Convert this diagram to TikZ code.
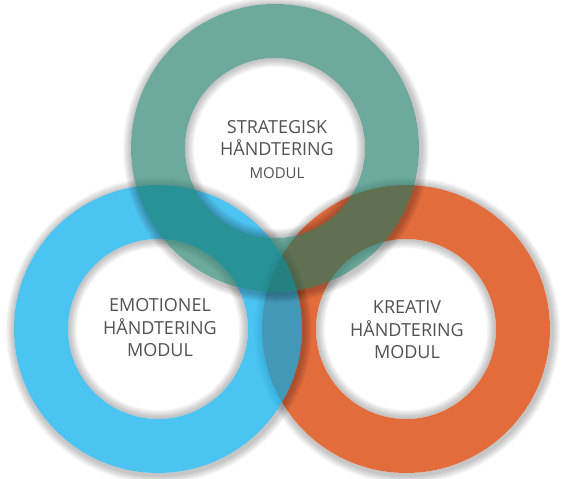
\documentclass[tikz,border=0pt]{standalone}
\usepackage{fontspec}
\setmainfont{Open Sans}
\usetikzlibrary{calc}

\definecolor{tealc}{RGB}{20,116,96}
\definecolor{bluec}{RGB}{0,171,236}
\definecolor{orangec}{RGB}{227,108,61}
\definecolor{textc}{RGB}{82,82,82}

\tikzset{
  modtext/.style={align=center, text=textc, font=\fontsize{18}{22.5}\selectfont, inner sep=0pt},
  ringshadow/.style={black, opacity=0.03, even odd rule},
}

\begin{document}
\begin{tikzpicture}[x=1pt,y=-1pt]
  \useasboundingbox (0,0) rectangle (565,479);

  % ring centres
  \coordinate (kre) at (406,329);
  \coordinate (emo) at (158,329);
  \coordinate (str) at (275,148);

  % rings with soft shadows, orange at the bottom, teal on top
  \foreach \c/\col/\op in {kre/orangec/1, emo/bluec/0.7, str/tealc/0.62}{
    \foreach \k in {2,...,9}{
      \fill[ringshadow] ($(\c)+(1,1.5)$) circle ({(144+\k)*1pt}) (\c) circle (144pt);
      \fill[ringshadow] (\c) circle (90pt) (\c) circle ({(90-\k)*1pt});
    }
    \fill[\col, opacity=\op, even odd rule] (\c) circle (144pt) (\c) circle (90pt);
  }

  % labels
  \node[modtext] (strlabel) at (277,149.5) {STRATEGISK\\HÅNDTERING\\{\fontsize{15}{22.5}\selectfont MODUL}};
  \node[modtext] (emolabel) at (160,328) {EMOTIONEL\\HÅNDTERING\\MODUL};
  \node[modtext] (krelabel) at (407,330) {KREATIV\\HÅNDTERING\\MODUL};
\end{tikzpicture}
\end{document}
